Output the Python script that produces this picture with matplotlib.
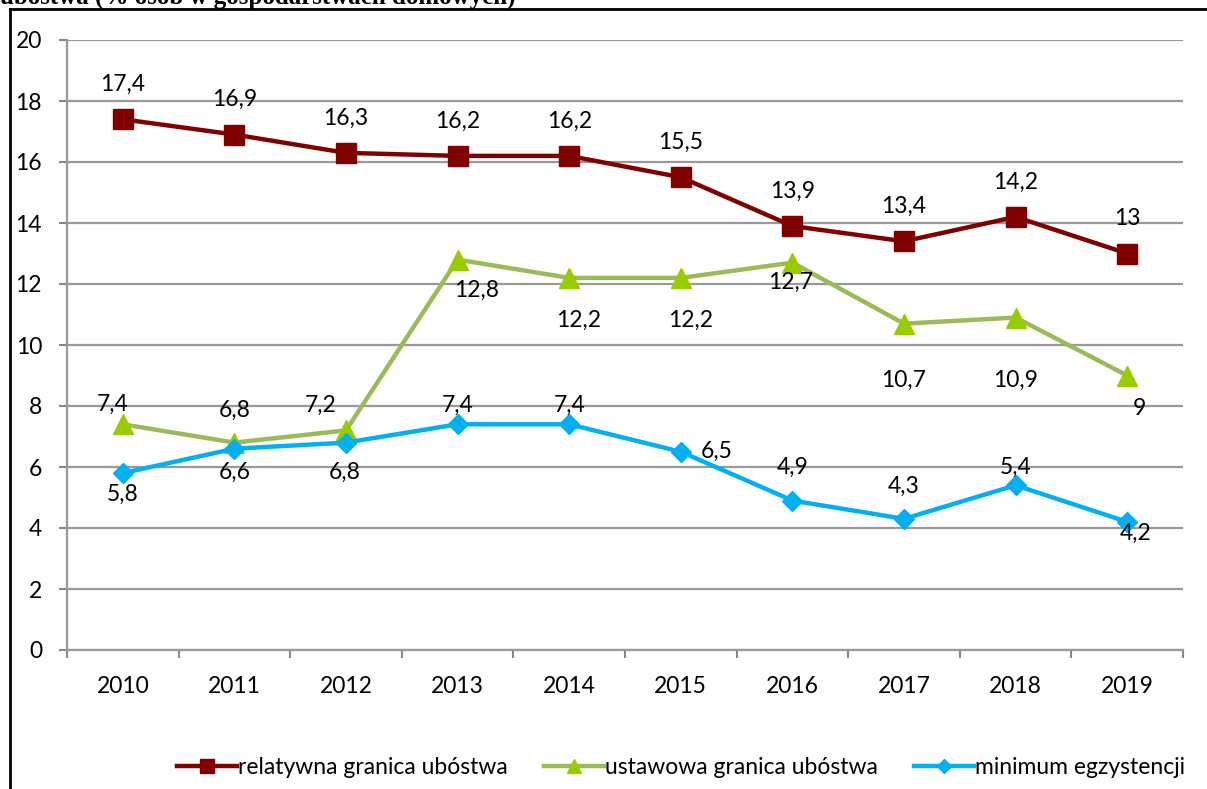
import matplotlib.pyplot as plt
from matplotlib.lines import Line2D
from matplotlib.ticker import FixedLocator

plt.rcParams['font.family'] = ['Lato', 'DejaVu Sans']

years = ["2010", "2011", "2012", "2013", "2014", "2015", "2016", "2017", "2018", "2019"]
relatywna = [17.4, 16.9, 16.3, 16.2, 16.2, 15.5, 13.9, 13.4, 14.2, 13]
ustawowa = [7.4, 6.8, 7.2, 12.8, 12.2, 12.2, 12.7, 10.7, 10.9, 9]
minimum = [5.8, 6.6, 6.8, 7.4, 7.4, 6.5, 4.9, 4.3, 5.4, 4.2]
names = ["relatywna granica ubóstwa", "ustawowa granica ubóstwa", "minimum egzystencji"]

# label offsets in pixels (dx, dy), as placed in the original
off_rel = [(0, 35)] * 10
off_ust = [(-10, 20), (0, 32), (-25, 25), (19, -31), (9, -42), (10, -42),
           (-2, -20), (0, -57), (0, -63), (12, -33)]
off_min = [(0, -21), (0, -24), (-1, -30), (0, 19), (0, 19), (36, 0),
           (0, 33), (0, 33), (0, 18), (8, -11)]

fs = 16.5

fig = plt.figure(figsize=(12.07, 7.89), dpi=100)
ax = fig.add_axes([67/1207, 1 - 650/789, (1183 - 67)/1207, (650 - 40)/789])

x = list(range(len(years)))
series = [
    (relatywna, off_rel, dict(color="#800000", marker="s", markersize=14, markerfacecolor="#800000")),
    (ustawowa, off_ust, dict(color="#9BBB59", marker="^", markersize=15, markerfacecolor="#99CC00", markeredgecolor="#99CC00")),
    (minimum, off_min, dict(color="#00B0F0", marker="D", markersize=10, markerfacecolor="#00B0F0")),
]
for (vals, offs, st), name in zip(series, names):
    ax.plot(x, vals, linewidth=3.2, label=name, zorder=3, **st)
    for xi, v, (dx, dy) in zip(x, vals, offs):
        ax.annotate(f"{v:g}".replace(".", ","), (xi, v), xytext=(dx, dy),
                    textcoords="offset pixels", ha="center", va="center",
                    fontsize=fs, color="black", zorder=4)

ax.set_xlim(-0.5, len(years) - 0.5)
ax.set_ylim(0, 20)
ax.set_yticks(range(0, 21, 2))
ax.set_xticks(x)
ax.set_xticklabels(years)
ax.xaxis.set_minor_locator(FixedLocator([i - 0.5 for i in range(len(years) + 1)]))
ax.tick_params(axis="x", which="major", length=0, pad=19, labelsize=fs)
ax.tick_params(axis="x", which="minor", length=6, width=1.5, color="#888888")
ax.tick_params(axis="y", length=6, width=1.5, color="#888888", pad=12, labelsize=fs)
ax.grid(axis="y", color="#999999", linewidth=1.6)
ax.set_axisbelow(True)
for s in ["top", "right"]:
    ax.spines[s].set_visible(False)
for s in ["left", "bottom"]:
    ax.spines[s].set_color("#999999")
    ax.spines[s].set_linewidth(1.6)

ax.legend(loc="center", bbox_to_anchor=(681/1207, 1 - 768/789), bbox_transform=fig.transFigure,
          ncol=3, frameon=False, fontsize=fs, handlelength=2.6, handletextpad=0.05,
          columnspacing=1.6, markerscale=0.7)

# outer frame and cut-off heading
fig.add_artist(Line2D([10/1207, 10/1207], [0, 1 - 9/789], color="black", linewidth=2))
fig.add_artist(Line2D([10/1207, 1], [1 - 9/789, 1 - 9/789], color="black", linewidth=2))
fig.text(0, 1 + 3/789, "ubóstwa (% osób w gospodarstwach domowych)", ha="left", va="center",
         fontsize=18, fontweight="bold", family="Liberation Serif")

fig.savefig("out.png", dpi=100, facecolor="white")
